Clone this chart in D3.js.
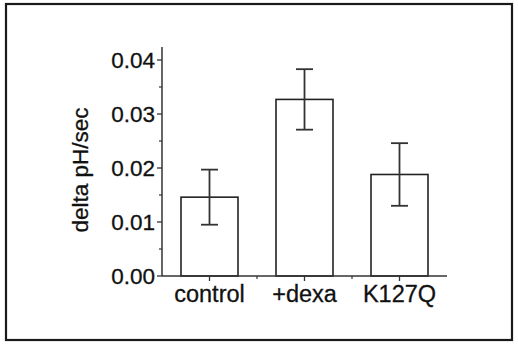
<!DOCTYPE html>
<html>
<head>
<meta charset="utf-8">
<script src="https://cdn.jsdelivr.net/npm/d3@7"></script>
<style>
  body { margin: 0; background: #fff; }
  text { font-family: "Liberation Sans", Arial, sans-serif; fill: #111; stroke: #111; stroke-width: 0.3; }
</style>
</head>
<body>
<div id="chart"></div>
<script>
// data
var categories = ["control", "+dexa", "K127Q"];
var means = [0.0146, 0.0327, 0.0188];
var errors = [0.0051, 0.0056, 0.0058];
var yTicks = [0.00, 0.01, 0.02, 0.03, 0.04];
var yMinorTicks = [0.005, 0.015, 0.025, 0.035];

var W = 518, H = 347;
var svg = d3.select("#chart").append("svg")
    .attr("width", W).attr("height", H);

// outer frame
svg.append("rect")
    .attr("x", 6).attr("y", 4).attr("width", 506).attr("height", 336)
    .attr("fill", "none").attr("stroke", "#1a1a1a").attr("stroke-width", 2.2);

var x = d3.scaleLinear().domain([0.5, 3.5]).range([162, 447]);
var y = d3.scaleLinear().domain([0, 0.04]).range([276, 60]);
var barW = 0.6;

var g = svg.append("g");

// bars
g.selectAll("rect.bar")
    .data(means)
    .enter().append("rect")
    .attr("class", "bar")
    .attr("x", function(d, i) { return x(i + 1 - barW / 2); })
    .attr("width", x(barW) - x(0))
    .attr("y", function(d) { return y(d); })
    .attr("height", function(d) { return y(0) - y(d); })
    .attr("fill", "#fff").attr("stroke", "#222").attr("stroke-width", 1.6);

// error bars
var capW = 8.5;
means.forEach(function(m, i) {
    var cx = x(i + 1);
    var e = g.append("g").attr("stroke", "#333").attr("stroke-width", 1.8);
    e.append("line").attr("x1", cx).attr("x2", cx)
        .attr("y1", y(m + errors[i])).attr("y2", y(m - errors[i]));
    [m + errors[i], m - errors[i]].forEach(function(v) {
        e.append("line").attr("x1", cx - capW).attr("x2", cx + capW)
            .attr("y1", y(v)).attr("y2", y(v));
    });
});

// axes
var axisCol = "#333";
g.append("line").attr("x1", x(0.5)).attr("x2", x(0.5))
    .attr("y1", 47).attr("y2", y(0)).attr("stroke", axisCol).attr("stroke-width", 1.5);
g.append("line").attr("x1", x(0.5)).attr("x2", x(3.5))
    .attr("y1", y(0)).attr("y2", y(0)).attr("stroke", axisCol).attr("stroke-width", 1.5);

// y ticks
g.selectAll("line.ymaj").data(yTicks).enter().append("line")
    .attr("x1", x(0.5) - 5).attr("x2", x(0.5))
    .attr("y1", function(d) { return y(d); }).attr("y2", function(d) { return y(d); })
    .attr("stroke", axisCol).attr("stroke-width", 1.3);
g.selectAll("line.ymin").data(yMinorTicks).enter().append("line")
    .attr("x1", x(0.5) - 3).attr("x2", x(0.5))
    .attr("y1", function(d) { return y(d); }).attr("y2", function(d) { return y(d); })
    .attr("stroke", axisCol).attr("stroke-width", 1.2);

g.selectAll("text.ylab").data(yTicks).enter().append("text")
    .attr("text-anchor", "end")
    .attr("font-size", 22.5)
    .attr("x", 155)
    .attr("y", function(d) { return y(d) + 8; })
    .text(function(d) { return d3.format(".2f")(d); });

// x ticks
var xMajor = categories.map(function(c, i) { return i + 1; });
var xMinor = [1.5, 2.5];
g.selectAll("line.xmaj").data(xMajor).enter().append("line")
    .attr("x1", function(d) { return x(d); }).attr("x2", function(d) { return x(d); })
    .attr("y1", y(0)).attr("y2", y(0) + 5)
    .attr("stroke", axisCol).attr("stroke-width", 1.3);
g.selectAll("line.xmin").data(xMinor).enter().append("line")
    .attr("x1", function(d) { return x(d); }).attr("x2", function(d) { return x(d); })
    .attr("y1", y(0)).attr("y2", y(0) + 3)
    .attr("stroke", axisCol).attr("stroke-width", 1.2);

g.selectAll("text.xlab").data(categories).enter().append("text")
    .attr("text-anchor", "middle")
    .attr("font-size", 23.5)
    .attr("x", function(d, i) { return x(i + 1); })
    .attr("y", 302)
    .text(function(d) { return d; });

// y axis title
svg.append("text")
    .attr("text-anchor", "middle")
    .attr("font-size", 22.5)
    .attr("transform", "translate(88,170) rotate(-90)")
    .text("delta pH/sec");
</script>
</body>
</html>
